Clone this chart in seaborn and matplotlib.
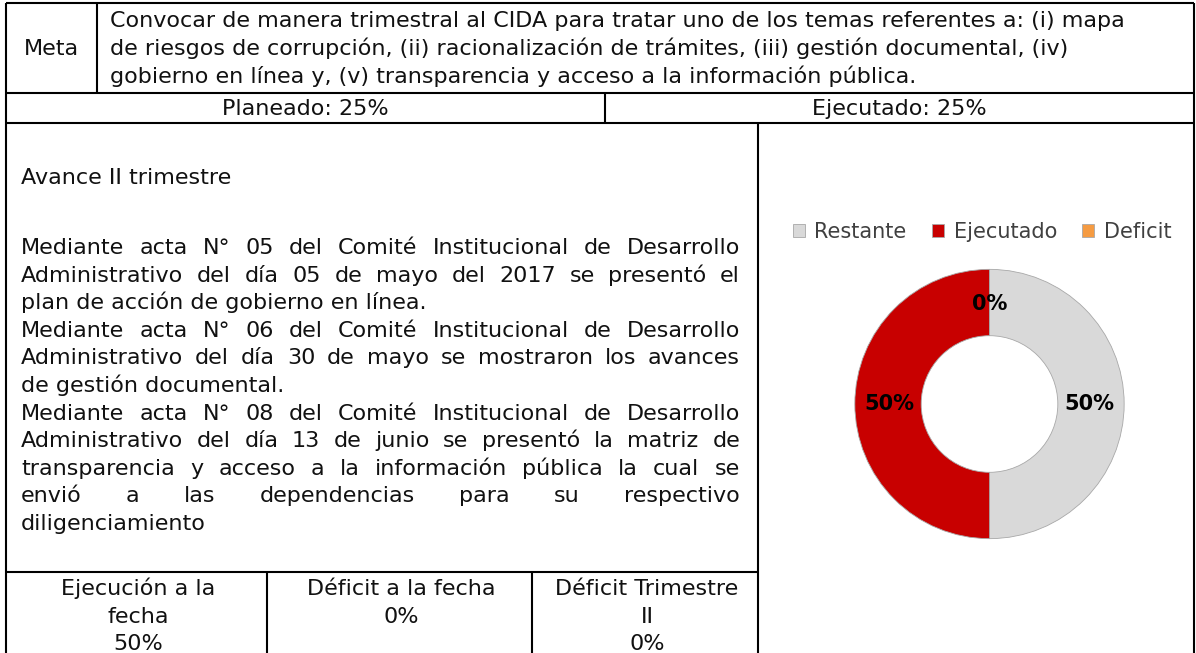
"""
plot.py
-------
Ficha de seguimiento (Meta / Planeado / Ejecutado) con gráfico de dona.
"""

import matplotlib
matplotlib.use("Agg")           # sin pantalla
import matplotlib.pyplot as plt
from matplotlib.font_manager import FontProperties
import seaborn as sns

# ─── Datos ────────────────────────────────────────────────────────
META_LABEL = "Meta"
META_LINES = [
    "Convocar de manera trimestral al CIDA para tratar uno de los temas referentes a: (i) mapa",
    "de riesgos de corrupción, (ii) racionalización de trámites, (iii) gestión documental, (iv)",
    "gobierno en línea y, (v) transparencia y acceso a la información pública.",
]
PLANEADO = 25
EJECUTADO = 25

AVANCE_TITLE = "Avance II trimestre"
AVANCE_LINES = [
    "Mediante acta N° 05 del Comité Institucional de Desarrollo",
    "Administrativo del día 05 de mayo del 2017 se presentó el",
    "plan de acción de gobierno en línea.",
    "Mediante acta N° 06 del Comité Institucional de Desarrollo",
    "Administrativo del día 30 de mayo se mostraron los avances",
    "de gestión documental.",
    "Mediante acta N° 08 del Comité Institucional de Desarrollo",
    "Administrativo del día 13 de junio se presentó la matriz de",
    "transparencia y acceso a la información pública la cual se",
    "envió a las dependencias para su respectivo",
    "diligenciamiento",
]
JUSTIFY = [True, True, False, True, True, False, True, True, True, True, False]

CELL_TITLES = [
    ["Ejecución a la", "fecha"],
    ["Déficit a la fecha"],
    ["Déficit Trimestre", "II"],
]
CELL_VALUES = [50, 0, 0]

SERIES = ["Restante", "Ejecutado", "Deficit"]
VALUES = [50, 50, 0]

# ─── Estilo ───────────────────────────────────────────────────────
sns.set_theme(style="white")
FONT = "DejaVu Sans"
plt.rcParams["font.family"] = [FONT]
COLORS = sns.color_palette(["#D9D9D9", "#C80000", "#F59B42"])
TEXT_COLOR = "#111111"

W, H = 1196, 653
fig = plt.figure(figsize=(W / 100, H / 100), dpi=100)
fig.patch.set_facecolor("white")
ax = fig.add_axes([0, 0, 1, 1])
ax.set_xlim(0, W)
ax.set_ylim(H, 0)
ax.axis("off")
renderer = fig.canvas.get_renderer()


def text_width(s, fp):
    w, _, _ = renderer.get_text_width_height_descent(s, fp, ismath=False)
    return w


def fit_size(lines, max_w, start):
    size = start
    while size > 8:
        fp = FontProperties(family=FONT, size=size)
        if max(text_width(l, fp) for l in lines) <= max_w:
            break
        size -= 0.25
    return size


# ─── Bordes de la tabla ───────────────────────────────────────────
L, R, T = 6, 1194, 3
Y_META, Y_PLAN, Y_CELLS = 93, 123, 572
X_META, X_PLAN, X_SPLIT = 97, 605, 758
X_C1, X_C2 = 267, 532
line_kw = dict(color="black", lw=1.5, solid_capstyle="butt")

for y in (T, Y_META, Y_PLAN):
    ax.plot([L, R], [y, y], **line_kw)
ax.plot([L, X_SPLIT], [Y_CELLS, Y_CELLS], **line_kw)
ax.plot([L, L], [T, H], **line_kw)
ax.plot([R, R], [T, H], **line_kw)
ax.plot([X_META, X_META], [T, Y_META], **line_kw)
ax.plot([X_PLAN, X_PLAN], [Y_META, Y_PLAN], **line_kw)
ax.plot([X_SPLIT, X_SPLIT], [Y_PLAN, H], **line_kw)
for x in (X_C1, X_C2):
    ax.plot([x, x], [Y_CELLS, H], **line_kw)

# ─── Textos ───────────────────────────────────────────────────────
LINE_H = 27.6
BASE = 7          # desplazamiento centro -> línea base

body_size = fit_size(AVANCE_LINES, X_SPLIT - 18 - 21, 16)
meta_size = fit_size(META_LINES, R - 12 - 110, body_size)
fp_body = FontProperties(family=FONT, size=body_size)
fp_meta = FontProperties(family=FONT, size=meta_size)

ax.text((L + X_META) / 2, 48 + BASE, META_LABEL, fontproperties=fp_body,
        ha="center", va="baseline", color=TEXT_COLOR)
for i, line in enumerate(META_LINES):
    ax.text(110, 48 + (i - 1) * LINE_H + BASE, line, fontproperties=fp_meta,
            ha="left", va="baseline", color=TEXT_COLOR)

ax.text((L + X_PLAN) / 2, 108 + BASE, f"Planeado: {PLANEADO}%",
        fontproperties=fp_body, ha="center", va="baseline", color=TEXT_COLOR)
ax.text((X_PLAN + R) / 2, 108 + BASE, f"Ejecutado: {EJECUTADO}%",
        fontproperties=fp_body, ha="center", va="baseline", color=TEXT_COLOR)

# párrafo justificado
X0, X1 = 21, 740
ax.text(X0, 177 + BASE, AVANCE_TITLE, fontproperties=fp_body,
        ha="left", va="baseline", color=TEXT_COLOR)
for i, (line, just) in enumerate(zip(AVANCE_LINES, JUSTIFY)):
    y = 247 + i * LINE_H + BASE
    words = line.split()
    if not just or len(words) < 2:
        ax.text(X0, y, line, fontproperties=fp_body, ha="left",
                va="baseline", color=TEXT_COLOR)
        continue
    widths = [text_width(w, fp_body) for w in words]
    gap = (X1 - X0 - sum(widths)) / (len(words) - 1)
    x = X0
    for word, ww in zip(words, widths):
        ax.text(x, y, word, fontproperties=fp_body, ha="left",
                va="baseline", color=TEXT_COLOR)
        x += ww + gap

# celdas inferiores
cell_edges = [L, X_C1, X_C2, X_SPLIT]
for j, (title, val) in enumerate(zip(CELL_TITLES, CELL_VALUES)):
    cx = (cell_edges[j] + cell_edges[j + 1]) / 2 + 2
    rows = title + [f"{val}%"]
    for k, row in enumerate(rows):
        ax.text(cx, 588 + k * LINE_H + BASE, row, fontproperties=fp_body,
                ha="center", va="baseline", color=TEXT_COLOR)

# ─── Dona ─────────────────────────────────────────────────────────
CX, CY, R_OUT, R_IN = 989.5, 404, 136, 69
ax_pie = fig.add_axes([(CX - R_OUT) / W, (H - CY - R_OUT) / H,
                       2 * R_OUT / W, 2 * R_OUT / H])
ring = (R_OUT - R_IN) / R_OUT
wedges, _, pcts = ax_pie.pie(
    VALUES,
    colors=COLORS,
    startangle=90,
    counterclock=False,
    radius=1,
    autopct="%1.0f%%",
    pctdistance=1 - ring / 2 - 0.01,
    wedgeprops={"width": ring, "edgecolor": "#A8A8A8", "linewidth": 0.6},
    textprops={"family": ["Liberation Sans Narrow", "DejaVu Sans"],
               "fontweight": "bold", "fontsize": 15, "color": "black"},
)
ax_pie.set_xlim(-1.01, 1.01)
ax_pie.set_ylim(-1.01, 1.01)
ax_pie.set_aspect("equal")

fig.legend(
    wedges, SERIES,
    loc="center",
    bbox_to_anchor=(982 / W, 1 - 232 / H),
    ncol=3,
    frameon=False,
    handlelength=0.6,
    handleheight=0.6,
    handletextpad=0.45,
    columnspacing=1.2,
    fontsize=15,
    labelcolor="#404040",
)

plt.savefig("out.png", dpi=100, facecolor="white")
plt.close()
